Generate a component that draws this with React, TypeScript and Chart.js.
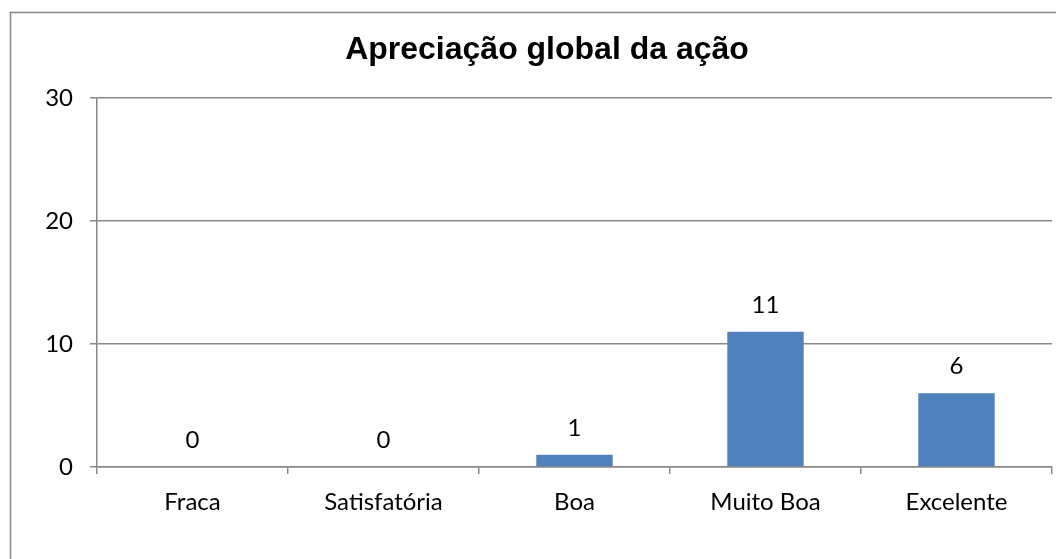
import React, { useEffect, useRef } from "react";
import { Chart, registerables } from "chart.js";

Chart.register(...registerables);

const title = "Apreciação global da ação";
const categories = ["Fraca", "Satisfatória", "Boa", "Muito Boa", "Excelente"];
const values = [0, 0, 1, 11, 6];
const yTicks = [0, 10, 20, 30];

const TICK_FONT = "Lato, Calibri, 'Open Sans', sans-serif";
const LINE = "#878787";

export default function App() {
  const ref = useRef<HTMLCanvasElement | null>(null);
  useEffect(() => {
    if (!ref.current) return;
    const framePlugin = {
      id: "frame",
      beforeDraw(chart: any) {
        const ctx = chart.ctx;
        ctx.save();
        ctx.fillStyle = "#ffffff";
        ctx.fillRect(0, 0, chart.width, chart.height);
        ctx.strokeStyle = LINE;
        ctx.lineWidth = 1.5;
        ctx.strokeRect(10.5, 12.5, 1200, 700);
        ctx.restore();
      },
      afterDraw(chart: any) {
        const ctx = chart.ctx;
        ctx.save();
        ctx.font = "bold 32px 'Liberation Sans', Arial, sans-serif";
        ctx.fillStyle = "#000000";
        ctx.textAlign = "center";
        ctx.textBaseline = "alphabetic";
        ctx.fillText(title, 547, 59);
        ctx.restore();
      },
    };
    const labelPlugin = {
      id: "valueLabels",
      afterDatasetsDraw(chart: any) {
        const ctx = chart.ctx;
        const meta = chart.getDatasetMeta(0);
        ctx.save();
        ctx.font = `24px ${TICK_FONT}`;
        ctx.fillStyle = "#000000";
        ctx.textAlign = "center";
        ctx.textBaseline = "alphabetic";
        meta.data.forEach((bar: any, i: number) => {
          ctx.fillText(String(values[i]), bar.x, bar.y - 19);
        });
        ctx.restore();
      },
    };
    const chart = new Chart(ref.current, {
      type: "bar",
      data: {
        labels: categories,
        datasets: [
          {
            data: values,
            backgroundColor: "#4F81BD",
            borderWidth: 0,
            barPercentage: 0.4,
            categoryPercentage: 1,
          },
        ],
      },
      options: {
        animation: false,
        responsive: false,
        maintainAspectRatio: false,
        layout: { padding: { left: 0, right: 4, top: 98, bottom: 30 } },
        plugins: {
          legend: { display: false },
          tooltip: { enabled: false },
          title: { display: false },
        },
        scales: {
          x: {
            grid: {
              display: true,
              drawOnChartArea: false,
              drawTicks: true,
              tickLength: 7,
              offset: true,
              color: LINE,
              lineWidth: 1.5,
            },
            border: { display: true, color: LINE, width: 1.5 },
            ticks: {
              color: "#000000",
              font: { family: TICK_FONT, size: 24 },
              padding: 14,
              maxRotation: 0,
            },
            afterFit(scale: any) {
              scale.height = 62;
            },
          },
          y: {
            min: 0,
            max: 30,
            afterBuildTicks(scale: any) {
              scale.ticks = yTicks.map((v) => ({ value: v }));
            },
            grid: {
              color: LINE,
              lineWidth: 1.5,
              tickLength: 7,
              drawTicks: true,
            },
            border: { display: true, color: LINE, width: 1.5 },
            ticks: {
              color: "#000000",
              font: { family: TICK_FONT, size: 24 },
              padding: 17,
              stepSize: 10,
            },
            afterFit(scale: any) {
              scale.width = 97;
            },
          },
        },
      },
      plugins: [framePlugin, labelPlugin],
    });
    return () => chart.destroy();
  }, []);
  return (
    <div style={{ position: "fixed", left: 0, top: 0, width: 1056, height: 559 }}>
      <canvas ref={ref} width={1056} height={559} style={{ width: 1056, height: 559 }} />
    </div>
  );
}
